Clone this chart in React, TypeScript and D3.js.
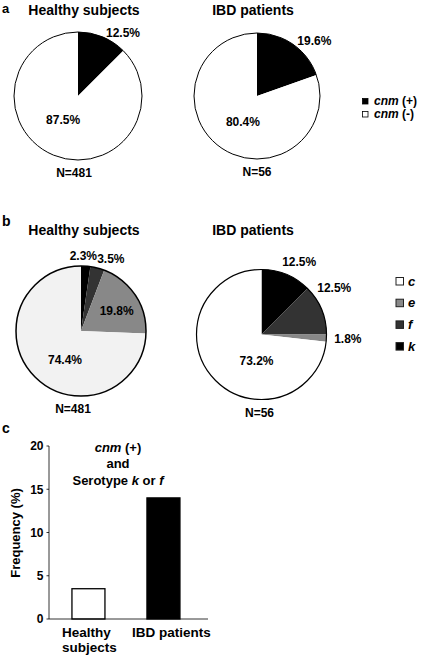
import React from 'react';
import * as d3 from 'd3';

// ---------- data ----------
const groupTitles = ['Healthy subjects', 'IBD patients'];
const groupN = ['N=481', 'N=56'];

const cnmCategories = ['cnm (+)', 'cnm (-)'];
const cnmHealthy = [12.5, 87.5];
const cnmIBD = [19.6, 80.4];

const serotypeCategories = ['k', 'f', 'e', 'c'];
const serotypeHealthy = [2.3, 3.5, 19.8, 74.4];
const serotypeIBD = [12.5, 12.5, 1.8, 73.2];
const serotypeLegendOrder = ['c', 'e', 'f', 'k'];

const barCategories = ['Healthy subjects', 'IBD patients'];
const barValues = [3.5, 14.0];
const yTicks = [0, 5, 10, 15, 20];

// ---------- styles / layout ----------
const FONT = '"Liberation Sans", Arial, Helvetica, sans-serif';
const cnmColors: Record<string, string> = { 'cnm (+)': '#000', 'cnm (-)': '#fff' };
const serotypeColors: Record<string, string> = { k: '#000', f: '#333', e: '#888', c: '#fff' };

type LabelPos = { angle: number; f: number };

const pies = [
  { cx: 78, cy: 96, r: 64, values: cnmHealthy, cats: cnmCategories, colors: cnmColors, stroke: 1,
    labels: [{ angle: 35.5, f: 1.21 }, { angle: 212, f: 0.44 }] as LabelPos[], nDx: -4, title: 0, cFill: null as string | null },
  { cx: 257, cy: 96, r: 63, values: cnmIBD, cats: cnmCategories, colors: cnmColors, stroke: 1,
    labels: [{ angle: 46.3, f: 1.26 }, { angle: 208.3, f: 0.47 }] as LabelPos[], nDx: 0, title: 1, cFill: null },
  { cx: 81, cy: 331, r: 65, values: serotypeHealthy, cats: serotypeCategories, colors: serotypeColors, stroke: 1.5,
    labels: [{ angle: 1.8, f: 1.155 }, { angle: 22.3, f: 1.21 }, { angle: 60.7, f: 0.63 }, { angle: 208.9, f: 0.51 }] as LabelPos[],
    nDx: -8, title: 0, cFill: '#f2f2f2' },
  { cx: 261.5, cy: 334.5, r: 65, values: serotypeIBD, cats: serotypeCategories, colors: serotypeColors, stroke: 1.2,
    labels: [{ angle: 27.4, f: 1.26 }, { angle: 57.3, f: 1.33 }, { angle: 93, f: 1.33 }, { angle: 190.7, f: 0.415 }] as LabelPos[],
    nDx: -2, title: 1, cFill: null },
];

const titleY = [15, 235];
const titleX = [84, 253];

function fmt(v: number) {
  return v.toFixed(1) + '%';
}

function Pie({ p, nText }: { p: typeof pies[number]; nText: string }) {
  const pieGen = d3.pie<number>().sort(null).value((d) => d);
  const arcs = pieGen(p.values);
  const arcGen = d3.arc<d3.PieArcDatum<number>>().innerRadius(0).outerRadius(p.r);
  return (
    <g>
      {arcs.map((a, i) => {
        const cat = p.cats[i];
        let fill = p.colors[cat];
        if (cat === 'c' && p.cFill) fill = p.cFill;
        return <path key={i} d={arcGen(a) || ''} transform={`translate(${p.cx},${p.cy})`} fill={fill} />;
      })}
      <circle cx={p.cx} cy={p.cy} r={p.r} fill="none" stroke="#000" strokeWidth={p.stroke} />
      {arcs.map((a, i) => {
        const lp = p.labels[i];
        const ang = (lp.angle * Math.PI) / 180;
        const x = p.cx + lp.f * p.r * Math.sin(ang);
        const y = p.cy - lp.f * p.r * Math.cos(ang);
        return (
          <text key={'l' + i} x={x} y={y} dy="0.36em" textAnchor="middle" fontSize={12} fontWeight="bold">
            {fmt(p.values[i])}
          </text>
        );
      })}
      <text x={p.cx + p.nDx} y={p.cy + p.r + 17} textAnchor="middle" fontSize={12} fontWeight="bold">
        {nText}
      </text>
    </g>
  );
}

function CnmLabel({ x, y, cat }: { x: number; y: number; cat: string }) {
  const rest = cat.replace('cnm', '');
  return (
    <text x={x} y={y} fontSize={12} fontWeight="bold">
      <tspan fontStyle="italic">cnm</tspan>
      <tspan>{rest}</tspan>
    </text>
  );
}

export default function App() {
  // bar chart scales
  const x = d3.scaleBand<string>().domain(barCategories).range([49, 208]).paddingInner(0.56).paddingOuter(0.34).align(0.45);
  const y = d3.scaleLinear().domain([0, 20]).range([619, 446]);
  const bw = x.bandwidth();

  return (
    <svg width={425} height={658} style={{ position: 'absolute', left: 0, top: 0, fontFamily: FONT }}>
      <rect width={425} height={658} fill="#fff" />
      {/* panel letters */}
      <text x={2} y={12.5} fontSize={13} fontWeight="bold">a</text>
      <text x={2} y={226} fontSize={14} fontWeight="bold">b</text>
      <text x={2} y={433} fontSize={14} fontWeight="bold">c</text>

      {/* titles */}
      {[0, 1].map((row) =>
        groupTitles.map((t, i) => (
          <text key={`t${row}${i}`} x={titleX[i]} y={titleY[row]} textAnchor="middle" fontSize={14} fontWeight="bold">
            {t}
          </text>
        ))
      )}

      {pies.map((p, i) => (
        <Pie key={i} p={p} nText={groupN[p.title]} />
      ))}

      {/* legend a */}
      {cnmCategories.map((c, i) => (
        <g key={c}>
          <rect x={362.5} y={98.5 + i * 13} width={5.5} height={5.5} fill={cnmColors[c]} stroke="#000" strokeWidth={0.8} />
          <CnmLabel x={374} y={104.5 + i * 13} cat={c} />
        </g>
      ))}

      {/* legend b */}
      {serotypeLegendOrder.map((c, i) => (
        <g key={c}>
          <rect x={396} y={277.5 + i * 21.7} width={7.5} height={7.5} fill={serotypeColors[c]} stroke="#222" strokeWidth={1} />
          <text x={408} y={285.5 + i * 21.7} fontSize={13} fontWeight="bold" fontStyle="italic">
            {c}
          </text>
        </g>
      ))}

      {/* bar chart */}
      <g>
        {barCategories.map((c, i) => (
          <rect key={c} x={x(c)} y={y(barValues[i])} width={bw} height={y(0) - y(barValues[i])}
            fill={i === 0 ? '#fff' : '#000'} stroke="#000" strokeWidth={1.3} />
        ))}
        <line x1={49} x2={49} y1={y(20)} y2={y(0)} stroke="#000" strokeWidth={0.8} />
        <line x1={49} x2={208} y1={y(0)} y2={y(0)} stroke="#000" strokeWidth={0.8} />
        {yTicks.map((t) => (
          <g key={t}>
            <line x1={46.5} x2={49} y1={y(t)} y2={y(t)} stroke="#000" strokeWidth={0.8} />
            <text x={43.5} y={y(t)} dy="0.36em" textAnchor="end" fontSize={12} fontWeight="bold">
              {t}
            </text>
          </g>
        ))}
        <text transform={`translate(15,533) rotate(-90)`} dy="0.36em" textAnchor="middle" fontSize={13} fontWeight="bold">
          Frequency (%)
        </text>
        <text x={118} y={452} textAnchor="middle" fontSize={13} fontWeight="bold">
          <tspan fontStyle="italic">cnm</tspan> (+)
        </text>
        <text x={118} y={468} textAnchor="middle" fontSize={13} fontWeight="bold">and</text>
        <text x={118} y={485} textAnchor="middle" fontSize={13} fontWeight="bold">
          Serotype <tspan fontStyle="italic">k</tspan> or <tspan fontStyle="italic">f</tspan>
        </text>
        {/* x labels */}
        <text x={(x(barCategories[0]) || 0) + bw / 2} y={637} textAnchor="middle" fontSize={13.5} fontWeight="bold">
          <tspan x={(x(barCategories[0]) || 0) + bw / 2 - 2}>Healthy</tspan>
          <tspan x={(x(barCategories[0]) || 0) + bw / 2 + 1} dy={15}>subjects</tspan>
        </text>
        <text x={(x(barCategories[1]) || 0) + bw / 2 + 8} y={637} textAnchor="middle" fontSize={13.5} fontWeight="bold">
          {barCategories[1]}
        </text>
      </g>
    </svg>
  );
}
